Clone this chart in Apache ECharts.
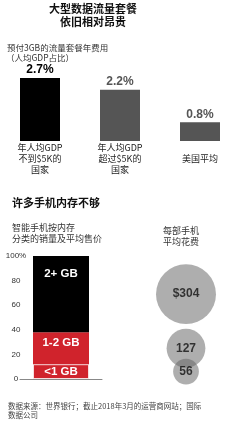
<!DOCTYPE html>
<html><head><meta charset="utf-8">
<script src="https://cdn.jsdelivr.net/npm/echarts@6/dist/echarts.min.js"></script>
<style>html,body{margin:0;padding:0;background:#fff}#c{width:240px;height:428px}</style>
</head><body><div id="c"></div>
<script>
// ---- data ----
const planCategories = ['年人均GDP\n不到$5K的\n国家', '年人均GDP\n超过$5K的\n国家', '美国平均'];
const planCostPct = [2.7, 2.2, 0.8];
const memoryCategories = ['<1 GB', '1-2 GB', '2+ GB'];
const memorySharePct = [12, 26, 62];
const avgSpendUSD = [56, 127, 304];
const avgSpendLabels = ['56', '127', '$304'];
const shareTicks = [0, 20, 40, 60, 80, 100];

// ---- styles ----
const CJK = '"Noto Sans CJK SC", "Noto Sans", sans-serif';
const LAT = '"Liberation Sans", Arial, sans-serif';
const planColors = ['#000000', '#555555', '#555555'];
const planLabelColors = ['#000000', '#555555', '#555555'];
const memColors = ['#d0232c', '#d0232c', '#000000'];
const memLabelPos = ['inside', 'insideTop', 'insideTop'];
const memLabelDist = [0, 5, 12];

const chart = echarts.init(document.getElementById('c'), null, {renderer: 'canvas'});

// bubble centers at mid of each stacked segment
const cum = [];
let acc = 0;
memorySharePct.forEach(v => { cum.push(acc + v / 2); acc += v; });
const bubbleData = [2, 1, 0].map(i => ({value: [0.5, cum[i], avgSpendUSD[i]], name: avgSpendLabels[i]}));

const memSeries = memoryCategories.map((name, i) => ({
  type: 'bar', name, stack: 'mem', xAxisIndex: 1, yAxisIndex: 1,
  barWidth: 56,
  data: [memorySharePct[i]],
  itemStyle: i === 0 ? {color: memColors[i], borderColor: 'rgba(255,255,255,0.7)', borderWidth: 1} : {color: memColors[i]},
  label: {show: true, position: memLabelPos[i], distance: memLabelDist[i], formatter: name,
    color: '#fff', fontFamily: LAT, fontWeight: 'bold', fontSize: 11.5},
  silent: true
}));

const option = {
  animation: false,
  backgroundColor: '#fff',
  grid: [
    {left: 0, width: 240, top: 78, height: 63},
    {left: 20, width: 82, top: 256, height: 123},
    {left: 150, width: 72, top: 256, height: 123}
  ],
  xAxis: [
    {gridIndex: 0, type: 'category', data: planCategories,
      axisLine: {show: false}, axisTick: {show: false},
      axisLabel: {interval: 0, verticalAlign: 'middle', margin: 17.5, lineHeight: 11,
        fontFamily: CJK, fontSize: 9, color: '#222'}},
    {gridIndex: 1, type: 'category', data: [''],
      axisLine: {show: true, lineStyle: {color: '#888', width: 1}}, axisTick: {show: false},
      axisLabel: {show: false}},
    {gridIndex: 2, type: 'value', min: 0, max: 1, show: false}
  ],
  yAxis: [
    {gridIndex: 0, type: 'value', min: 0, max: 2.7, show: false},
    {gridIndex: 1, type: 'value', min: shareTicks[0], max: shareTicks[shareTicks.length - 1],
      interval: shareTicks[1] - shareTicks[0],
      axisLine: {show: false}, axisTick: {show: false}, splitLine: {show: false},
      axisLabel: {align: 'center', margin: 4, fontSize: 8, fontFamily: LAT, color: '#333',
        formatter: v => v === 100 ? '100%' : String(v)}},
    {gridIndex: 2, type: 'value', min: 0, max: 100, show: false}
  ],
  series: [
    {type: 'bar', xAxisIndex: 0, yAxisIndex: 0, barWidth: 40,
      data: planCostPct.map((v, i) => ({value: v, itemStyle: {color: planColors[i]},
        label: {color: planLabelColors[i]}})),
      label: {show: true, position: 'top', distance: 2, formatter: p => p.value + '%',
        fontFamily: LAT, fontSize: 12, fontWeight: 'bold'},
      silent: true},
    ...memSeries,
    {type: 'scatter', xAxisIndex: 2, yAxisIndex: 2,
      data: bubbleData,
      symbolSize: d => Math.sqrt(d[2]) * 3.44,
      itemStyle: {color: 'rgba(100,100,100,0.65)'},
      label: {show: true, position: 'inside', formatter: p => p.name,
        color: '#111', fontFamily: LAT, fontWeight: 'bold', fontSize: 12},
      silent: true}
  ],
  graphic: [
    {type: 'text', x: 93, y: 8.5, style: {text: '大型数据流量套餐', font: 'bold 11px ' + CJK, fill: '#111', align: 'center', verticalAlign: 'middle'}},
    {type: 'text', x: 93, y: 22, style: {text: '依旧相对昂贵', font: 'bold 11px ' + CJK, fill: '#111', align: 'center', verticalAlign: 'middle'}},
    {type: 'text', x: 7, y: 47.5, style: {text: '预付3GB的流量套餐年费用', font: '8.5px ' + CJK, fill: '#333', verticalAlign: 'middle'}},
    {type: 'text', x: 6, y: 58, style: {text: '（人均GDP占比）', font: '8.5px ' + CJK, fill: '#333', verticalAlign: 'middle'}},
    {type: 'text', x: 12, y: 203, style: {text: '许多手机内存不够', font: 'bold 11px ' + CJK, fill: '#111', verticalAlign: 'middle'}},
    {type: 'text', x: 12, y: 228, style: {text: '智能手机按内存', font: '9px ' + CJK, fill: '#333', verticalAlign: 'middle'}},
    {type: 'text', x: 12, y: 239, style: {text: '分类的销量及平均售价', font: '9px ' + CJK, fill: '#333', verticalAlign: 'middle'}},
    {type: 'text', x: 163, y: 231, style: {text: '每部手机', font: '9px ' + CJK, fill: '#333', verticalAlign: 'middle'}},
    {type: 'text', x: 163, y: 242, style: {text: '平均花费', font: '9px ' + CJK, fill: '#333', verticalAlign: 'middle'}},
    {type: 'text', x: 8, y: 406, style: {text: '数据来源：世界银行；截止2018年3月的运营商网站；国际', font: '7.5px ' + CJK, fill: '#444', verticalAlign: 'middle'}},
    {type: 'text', x: 8, y: 415.5, style: {text: '数据公司', font: '7.5px ' + CJK, fill: '#444', verticalAlign: 'middle'}}
  ]
};
chart.setOption(option);
</script>
</body></html>
